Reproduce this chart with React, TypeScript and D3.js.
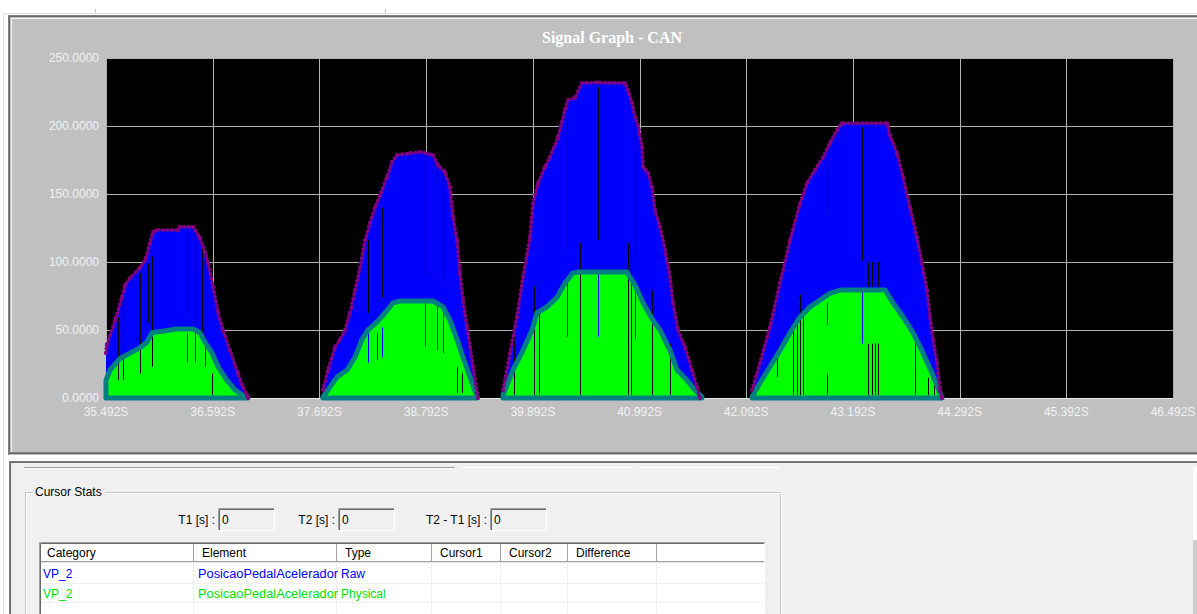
import React from "react";
import * as d3 from "d3";

// ---------- data ----------
const xTicks = [35.492, 36.592, 37.692, 38.792, 39.892, 40.992, 42.092, 43.192, 44.292, 45.392, 46.492];
const yTicks = [0, 50, 100, 150, 200, 250];
const chartTitle = "Signal Graph - CAN";

// Raw signal (PosicaoPedalAcelerador, Raw) – one array per burst: [time s, value]
const rawBurst1: [number, number][] = [
  [35.492, 33], [35.5, 39], [35.585, 57], [35.657, 74], [35.688, 83], [35.739, 88], [35.843, 96],
  [35.894, 101], [35.946, 114], [35.977, 122], [36.018, 123.5], [36.234, 123.5], [36.255, 126],
  [36.389, 126], [36.461, 118], [36.513, 107], [36.544, 99], [36.595, 82], [36.647, 63], [36.698, 50],
  [36.77, 35], [36.853, 18], [36.904, 8], [36.946, 2], [36.956, 0],
];
const rawBurst2: [number, number][] = [
  [37.729, 6], [37.781, 20.6], [37.853, 37.5], [37.904, 43], [37.956, 50], [38.007, 62.5], [38.059, 79],
  [38.111, 96], [38.162, 116], [38.214, 128.7], [38.265, 140], [38.317, 149], [38.389, 162.5],
  [38.44, 173.5], [38.492, 178.7], [38.626, 180], [38.729, 181], [38.863, 178.7], [38.915, 171],
  [38.987, 166], [39.038, 155], [39.069, 133], [39.111, 116], [39.141, 92], [39.172, 72], [39.214, 52],
  [39.245, 37.5], [39.276, 23], [39.317, 3.7], [39.327, 0],
];
const rawBurst3: [number, number][] = [
  [39.585, 6], [39.657, 33], [39.729, 59.6], [39.791, 89], [39.863, 118], [39.894, 143], [39.946, 158],
  [40.018, 170], [40.069, 177], [40.152, 192], [40.224, 212], [40.255, 219], [40.327, 220.6],
  [40.399, 231.6], [40.554, 232], [40.843, 231.6], [40.873, 226.5], [40.915, 217], [40.946, 206.6],
  [40.977, 200.7], [41.018, 184.6], [41.028, 170], [41.08, 165.4], [41.121, 155], [41.152, 138],
  [41.203, 126], [41.255, 109], [41.306, 89], [41.337, 70], [41.389, 50], [41.461, 37.5], [41.533, 20.6],
  [41.585, 8], [41.616, 0],
];
const rawBurst4: [number, number][] = [
  [42.152, 6], [42.234, 25.7], [42.337, 52], [42.44, 84.5], [42.544, 116], [42.647, 143], [42.719, 158],
  [42.801, 167.6], [42.884, 177], [42.956, 187.5], [43.028, 197], [43.08, 202], [43.544, 202],
  [43.574, 193], [43.647, 180], [43.708, 162.5], [43.781, 140], [43.853, 118], [43.904, 99],
  [43.956, 79], [43.987, 59.6], [44.018, 43], [44.059, 25.7], [44.09, 6], [44.111, 0],
];

// Physical signal (PosicaoPedalAcelerador, Physical)
const physBurst1: [number, number][] = [
  [35.492, 13], [35.533, 20.6], [35.636, 29], [35.739, 33], [35.843, 37], [35.915, 41], [35.966, 48],
  [36.018, 48.5], [36.224, 50.7], [36.389, 50.7], [36.461, 48], [36.513, 41], [36.585, 33],
  [36.647, 23], [36.739, 13], [36.822, 6], [36.925, 0.7], [36.956, 0],
];
const physBurst2: [number, number][] = [
  [37.729, 0.7], [37.801, 8], [37.873, 15.4], [37.977, 20.6], [38.059, 30], [38.131, 43], [38.193, 50],
  [38.286, 56], [38.368, 62.5], [38.451, 70], [38.523, 71.3], [38.863, 71.3], [38.966, 67],
  [39.038, 57], [39.111, 43], [39.172, 30], [39.245, 15.4], [39.317, 0.7],
];
const physBurst3: [number, number][] = [
  [39.585, 2], [39.688, 20.6], [39.791, 35], [39.884, 50], [39.935, 62.5], [40.038, 67], [40.141, 74],
  [40.224, 84.5], [40.306, 92], [40.379, 92.6], [40.863, 92.6], [40.946, 83], [41.028, 70],
  [41.131, 57], [41.203, 50], [41.306, 35], [41.379, 20.6], [41.482, 13], [41.544, 7.4], [41.636, 0.7],
];
const physBurst4: [number, number][] = [
  [42.152, 0.7], [42.234, 11], [42.337, 23], [42.44, 35], [42.544, 48], [42.647, 59.6], [42.75, 67],
  [42.853, 72], [42.956, 77], [43.059, 79.4], [43.523, 79.4], [43.605, 70], [43.708, 59.6],
  [43.812, 48], [43.915, 33], [44.007, 18.4], [44.09, 3.7], [44.111, 0],
];

// Missing-sample columns: [time, top value, bottom value]
const rawGaps: [number, number, number][] = [
  [35.616, 59.6, 13], [35.667, 79, 13], [35.843, 92, 18], [35.925, 99, 55], [35.966, 104, 23],
  [36.327, 123.5, 62.5], [36.41, 123, 55], [36.482, 116, 48], [36.513, 105, 23], [36.585, 18, 2],
  [38.193, 116, 62.5], [38.286, 140, 72], [38.337, 140, 74], [38.781, 180, 92], [38.904, 175, 89],
  [38.966, 165, 84.5], [39.111, 23, 3.7], [39.162, 18, 3.7], [39.214, 43, 15.4],
  [39.698, 45, 2], [39.904, 82, 2], [39.956, 86, 2], [40.245, 206.6, 107], [40.379, 114, 2],
  [40.564, 228.7, 116], [40.873, 114, 2], [40.904, 107, 2], [40.946, 204, 104], [41.121, 79, 2],
  [41.306, 40, 2],
  [42.41, 70, 15.4], [42.575, 72, 2], [42.616, 74, 2], [42.647, 76, 2], [42.678, 78, 2],
  [42.925, 175, 134.6], [42.925, 18, 2], [43.286, 199, 101], [43.348, 100, 82], [43.389, 100, 82],
  [43.42, 100, 82], [43.451, 100, 82], [43.348, 40, 2], [43.389, 40, 2], [43.42, 40, 2],
  [43.451, 40, 2], [43.832, 61, 2], [43.966, 15, 2], [44.028, 18, 2],
];
const physGaps: [number, number, number][] = [
  [36.327, 48, 26], [36.41, 48, 26],
  [38.193, 48, 26], [38.286, 48, 28], [38.337, 52, 30], [38.781, 70, 37.5], [38.904, 70, 35], [38.966, 70, 33],
  [40.245, 84.5, 45], [40.564, 92, 45], [40.946, 82, 43],
  [42.925, 70, 53.7], [43.286, 79, 40],
];

const rawBursts = [rawBurst1, rawBurst2, rawBurst3, rawBurst4];
const physBursts = [physBurst1, physBurst2, physBurst3, physBurst4];

// Cursor stats table
const tableHeaders = ["Category", "Element", "Type", "Cursor1", "Cursor2", "Difference", ""];
const tableCategories = ["VP_2", "VP_2"];
const tableElements = ["PosicaoPedalAcelerador", "PosicaoPedalAcelerador"];
const tableTypes = ["Raw", "Physical"];
const cursorFields = [
  { label: "T1 [s] :", value: "0" },
  { label: "T2 [s] :", value: "0" },
  { label: "T2 - T1 [s] :", value: "0" },
];

// ---------- layout ----------
const W = 1197;
const H = 614;
const PL = 106, PR = 1173, PT = 58, PB = 398;
const UI_FONT = "'Liberation Sans', Arial, sans-serif";

export default function App() {
  const x = d3.scaleLinear().domain([xTicks[0], xTicks[xTicks.length - 1]]).range([PL, PR]);
  const y = d3.scaleLinear().domain([0, 250]).range([PB, PT]);

  const area = d3.area<[number, number]>().x((d) => x(d[0])).y0(y(0)).y1((d) => y(d[1]));
  const line = d3.line<[number, number]>().x((d) => x(d[0])).y((d) => y(d[1]));

  const colX = [39, 194, 337, 432, 501, 568, 657, 765];
  const fieldBoxes = [
    { labelRight: 215, box: 218 },
    { labelRight: 335, box: 338 },
    { labelRight: 487, box: 490 },
  ];

  return (
    <svg
      width={W}
      height={H}
      style={{ position: "absolute", left: 0, top: 0, display: "block", background: "#ffffff" }}
    >
      {/* window chrome, top */}
      <rect x={0} y={0} width={W} height={H} fill="#ffffff" />
      <line x1={95.5} y1={9} x2={95.5} y2={14} stroke="#c8c8c8" />
      <line x1={385.5} y1={9} x2={385.5} y2={14} stroke="#c8c8c8" />
      <line x1={3} y1={13.5} x2={W} y2={13.5} stroke="#e3e3e3" />
      <line x1={3.5} y1={13} x2={3.5} y2={H} stroke="#e3e3e3" />

      {/* graph panel */}
      <rect x={8} y={15} width={W - 8} height={440} fill="#c0c0c0" />
      <line x1={8} y1={15.5} x2={W} y2={15.5} stroke="#808080" />
      <line x1={9} y1={16.5} x2={W} y2={16.5} stroke="#696969" />
      <line x1={8.5} y1={15} x2={8.5} y2={455} stroke="#808080" />
      <line x1={9.5} y1={16} x2={9.5} y2={454} stroke="#696969" />
      <line x1={11} y1={18.5} x2={W} y2={18.5} stroke="#f4f4f4" />
      <line x1={11.5} y1={18} x2={11.5} y2={452} stroke="#f4f4f4" />
      <line x1={9} y1={452.5} x2={W} y2={452.5} stroke="#808080" />
      <line x1={9} y1={453.5} x2={W} y2={453.5} stroke="#696969" />

      <text
        x={612}
        y={43}
        textAnchor="middle"
        fill="#ffffff"
        fontFamily="'Liberation Serif', 'Times New Roman', serif"
        fontWeight="bold"
        fontSize={16}
      >
        {chartTitle}
      </text>

      {/* plot background */}
      <rect x={PL} y={PT} width={PR - PL} height={PB - PT} fill="#000000" />

      {/* grid */}
      {xTicks.map((t) => (
        <line key={"gx" + t} x1={Math.round(x(t)) + 0.5} x2={Math.round(x(t)) + 0.5} y1={PT} y2={PB} stroke="#b0b0b0" />
      ))}
      {yTicks.map((v) => (
        <line
          key={"gy" + v}
          x1={PL}
          x2={PR}
          y1={Math.round(y(v)) + 0.5}
          y2={Math.round(y(v)) + 0.5}
          stroke={v === 0 ? "#e8e8e8" : "#b0b0b0"}
        />
      ))}

      {/* tick labels */}
      {yTicks.map((v) => (
        <text
          key={"ly" + v}
          x={99}
          y={y(v)}
          dy="0.35em"
          textAnchor="end"
          fill="#f2f2f2"
          fontFamily={UI_FONT}
          fontSize={12}
        >
          {v.toFixed(4)}
        </text>
      ))}
      {xTicks.map((t) => (
        <text
          key={"lx" + t}
          x={x(t)}
          y={416}
          textAnchor="middle"
          fill="#f2f2f2"
          fontFamily={UI_FONT}
          fontSize={12}
        >
          {t.toFixed(3) + "S"}
        </text>
      ))}

      {/* raw areas */}
      {rawBursts.map((b, i) => (
        <path key={"ra" + i} d={area(b) || ""} fill="#0000ff" />
      ))}
      {/* physical areas */}
      {physBursts.map((b, i) => (
        <path key={"pa" + i} d={area(b) || ""} fill="#00ff00" />
      ))}
      {/* missing-sample columns */}
      {rawGaps.map((g, i) => (
        <line
          key={"rg" + i}
          x1={Math.round(x(g[0])) + 0.5}
          x2={Math.round(x(g[0])) + 0.5}
          y1={y(g[1])}
          y2={y(g[2])}
          stroke="#000000"
          strokeWidth={1}
        />
      ))}
      {physGaps.map((g, i) => (
        <line
          key={"pg" + i}
          x1={Math.round(x(g[0])) + 0.5}
          x2={Math.round(x(g[0])) + 0.5}
          y1={y(g[1])}
          y2={y(g[2])}
          stroke="#0000ff"
          strokeWidth={1}
        />
      ))}
      {/* physical outline */}
      {physBursts.map((b, i) => (
        <path
          key={"po" + i}
          d={(area(b) || "")}
          fill="none"
          stroke="#008080"
          strokeWidth={5}
          strokeLinejoin="round"
        />
      ))}
      {/* raw line with dots */}
      {rawBursts.map((b, i) => (
        <g key={"rl" + i}>
          <path d={line(b) || ""} fill="none" stroke="#800080" strokeWidth={1.5} />
          <path
            d={line(b) || ""}
            fill="none"
            stroke="#800080"
            strokeWidth={4}
            strokeLinecap="round"
            strokeDasharray="0 4.6"
          />
          {b.map((d, j) => (
            <circle key={j} cx={x(d[0])} cy={y(d[1])} r={2} fill="#800080" />
          ))}
        </g>
      ))}

      {/* lower panel */}
      <rect x={8} y={455} width={W - 8} height={6} fill="#ffffff" />
      <rect x={9} y={461} width={W - 9} height={H - 461} fill="#f0f0f0" />
      <line x1={9} y1={461.5} x2={W} y2={461.5} stroke="#808080" />
      <line x1={10} y1={462.5} x2={W} y2={462.5} stroke="#696969" />
      <line x1={9.5} y1={461} x2={9.5} y2={H} stroke="#808080" />
      <line x1={10.5} y1={462} x2={10.5} y2={H} stroke="#696969" />
      <line x1={24} y1={467.5} x2={455} y2={467.5} stroke="#a0a0a0" />
      <line x1={24} y1={468.5} x2={455} y2={468.5} stroke="#ffffff" />
      <line x1={462} y1={467.5} x2={633} y2={467.5} stroke="#ffffff" />
      <line x1={640} y1={467.5} x2={780} y2={467.5} stroke="#ffffff" />

      {/* right scrollbar strip */}
      <rect x={1193} y={467} width={4} height={73} fill="#ffffff" />
      <rect x={1193} y={540} width={4} height={H - 540} fill="#cdcdcd" />

      {/* Cursor Stats group box */}
      <path d={`M25.5,${H} V492.5 H780.5 V${H}`} fill="none" stroke="#c6c6c6" />
      <path d={`M26.5,${H} V493.5 H781.5 V${H}`} fill="none" stroke="#ffffff" />
      <rect x={33} y={485} width={72} height={14} fill="#f0f0f0" />
      <text x={35} y={496} fill="#000000" fontFamily={UI_FONT} fontSize={12}>
        Cursor Stats
      </text>

      {cursorFields.map((f, i) => (
        <g key={"cf" + i}>
          <text
            x={fieldBoxes[i].labelRight}
            y={524}
            textAnchor="end"
            fill="#000000"
            fontFamily={UI_FONT}
            fontSize={12}
          >
            {f.label}
          </text>
          <rect x={fieldBoxes[i].box} y={508} width={57} height={23} fill="#f0f0f0" />
          <path
            d={`M${fieldBoxes[i].box + 0.5},531 V508.5 H${fieldBoxes[i].box + 57}`}
            fill="none"
            stroke="#a0a0a0"
          />
          <path
            d={`M${fieldBoxes[i].box + 1.5},530 V509.5 H${fieldBoxes[i].box + 56}`}
            fill="none"
            stroke="#696969"
          />
          <path
            d={`M${fieldBoxes[i].box},530.5 H${fieldBoxes[i].box + 56.5} V508`}
            fill="none"
            stroke="#ffffff"
          />
          <text
            x={fieldBoxes[i].box + 4}
            y={524}
            fill="#000000"
            fontFamily={UI_FONT}
            fontSize={12}
          >
            {f.value}
          </text>
        </g>
      ))}

      {/* table */}
      <rect x={39} y={542} width={726} height={H - 542} fill="#ffffff" />
      <path d={`M39.5,${H} V542.5 H765`} fill="none" stroke="#a0a0a0" />
      <path d={`M40.5,${H} V543.5 H764`} fill="none" stroke="#696969" />
      <rect x={41} y={544} width={723} height={18} fill="#ffffff" />
      <line x1={41} y1={561.5} x2={764} y2={561.5} stroke="#a0a0a0" />
      <line x1={41} y1={562.5} x2={764} y2={562.5} stroke="#e3e3e3" />
      {colX.slice(1, 7).map((cx, i) => (
        <g key={"cs" + i}>
          <line x1={cx - 0.5} x2={cx - 0.5} y1={544} y2={561} stroke="#a0a0a0" />
          <line x1={cx + 0.5} x2={cx + 0.5} y1={544} y2={561} stroke="#ffffff" />
          <line x1={cx - 0.5} x2={cx - 0.5} y1={563} y2={H} stroke="#f0f0f0" />
        </g>
      ))}
      <line x1={41} y1={583.5} x2={764} y2={583.5} stroke="#f0f0f0" />
      <line x1={41} y1={602.5} x2={764} y2={602.5} stroke="#f0f0f0" />
      {tableHeaders.map((h, i) => (
        <text
          key={"th" + i}
          x={colX[i] + 8}
          y={557}
          fill="#000000"
          fontFamily={UI_FONT}
          fontSize={12}
        >
          {h}
        </text>
      ))}
      {tableCategories.map((c, r) => {
        const color = r === 0 ? "#0000ff" : "#00e000";
        const ty = 578 + r * 20;
        return (
          <g key={"tr" + r} fill={color} fontFamily={UI_FONT} fontSize={12}>
            <text x={43} y={ty}>{c}</text>
            <text x={198} y={ty} textLength={140} lengthAdjust="spacingAndGlyphs">{tableElements[r]}</text>
            <text x={341} y={ty}>{tableTypes[r]}</text>
          </g>
        );
      })}
    </svg>
  );
}
